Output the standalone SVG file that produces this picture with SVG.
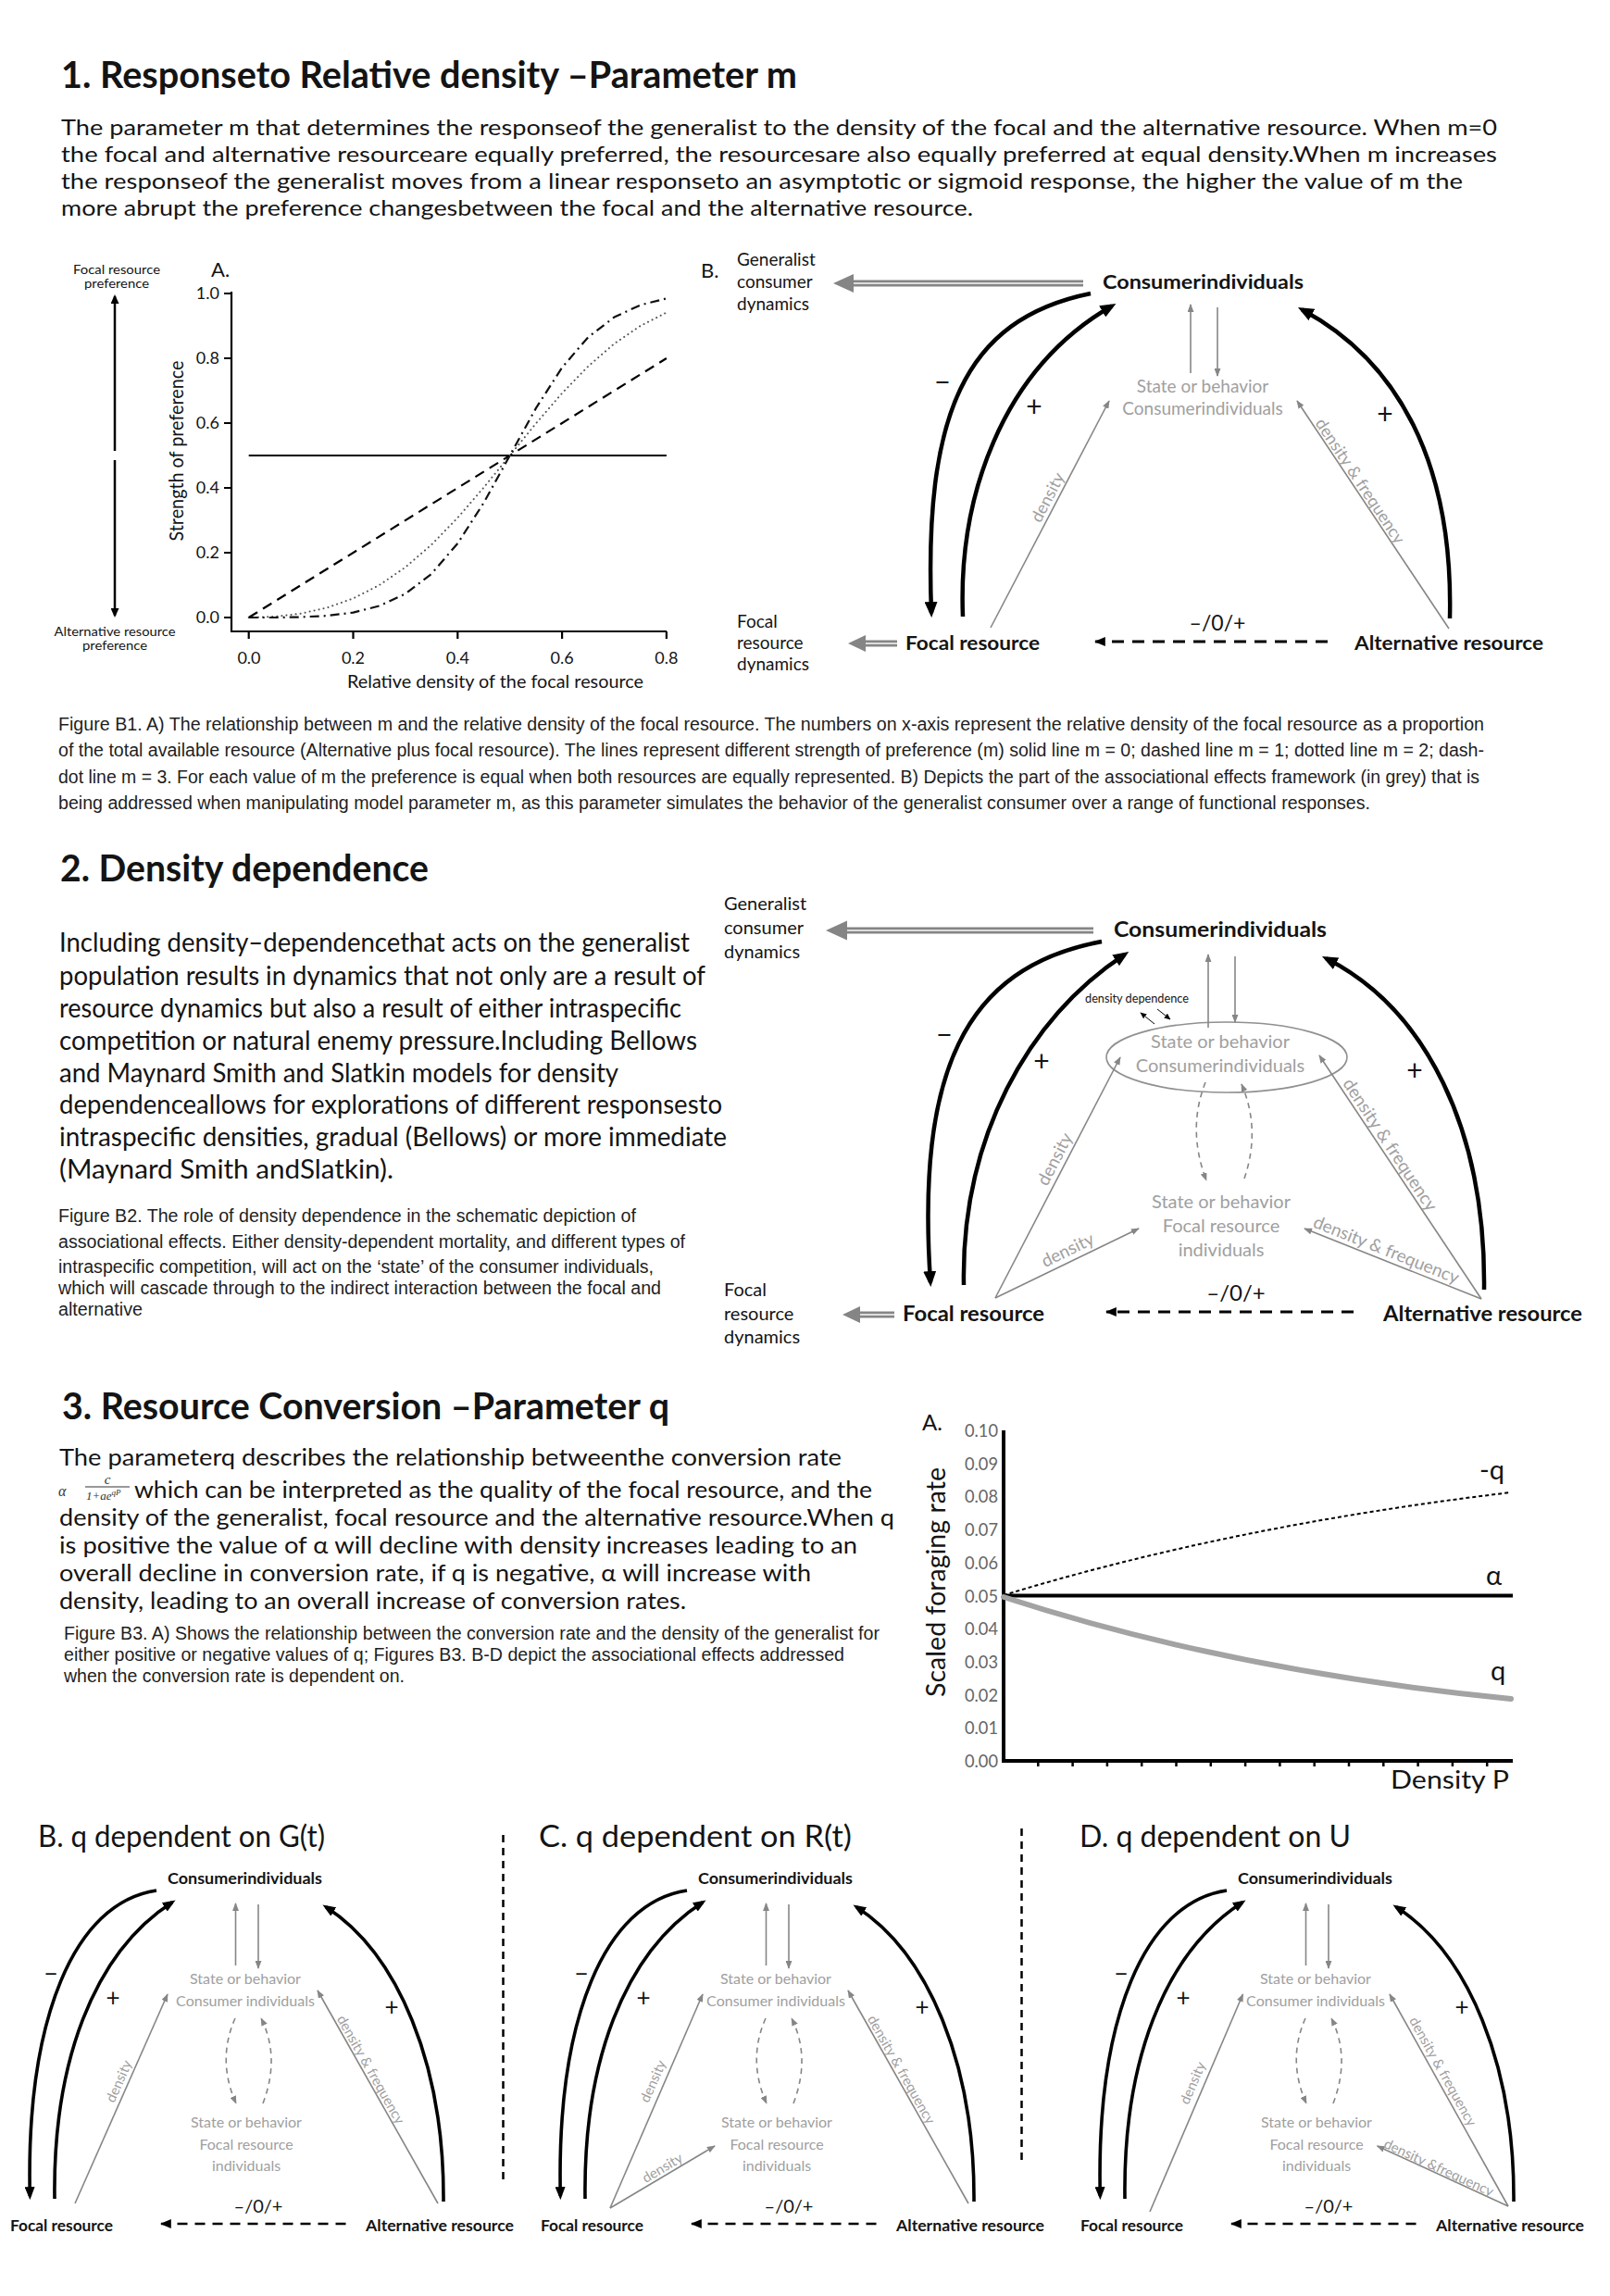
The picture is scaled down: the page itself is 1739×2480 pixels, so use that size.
<svg xmlns="http://www.w3.org/2000/svg" width="1739" height="2480" viewBox="0 0 1739 2480">
<defs>
<style>
.t{font-family:Lato,"Open Sans","Liberation Sans",sans-serif;fill:#141414}
.h{font-size:40px;font-weight:700}
.p{font-size:28px}
.c{font-family:"Liberation Sans Narrow","Liberation Sans",Arial,sans-serif;font-size:20px;fill:#1e1e1e}
.b{font-weight:700}
.g{fill:#a0a0a0}
.m{text-anchor:middle}
.e{text-anchor:end}
.arc{fill:none;stroke:#000;stroke-width:4.5}
.arcs{fill:none;stroke:#000;stroke-width:3.6}
.ga{fill:none;stroke:#868686;stroke-width:1.6}
.gd{fill:none;stroke:#868686;stroke-width:1.6;stroke-dasharray:6 5}
.kd{fill:none;stroke:#000;stroke-width:3;stroke-dasharray:13 9}
.kds{fill:none;stroke:#000;stroke-width:2.6;stroke-dasharray:11 8}
.ax{fill:none;stroke:#000;stroke-width:2.2}
.sep{stroke:#000;stroke-width:2.5;stroke-dasharray:8 6}
</style>
<marker id="ak" viewBox="0 0 10 10" refX="7" refY="5" markerWidth="17" markerHeight="14" markerUnits="userSpaceOnUse" orient="auto" preserveAspectRatio="none"><path d="M0,0 L10,5 L0,10 z" fill="#000"/></marker>
<marker id="aks" viewBox="0 0 10 10" refX="7" refY="5" markerWidth="14" markerHeight="11" markerUnits="userSpaceOnUse" orient="auto" preserveAspectRatio="none"><path d="M0,0 L10,5 L0,10 z" fill="#000"/></marker>
<marker id="akd" viewBox="0 0 10 10" refX="9" refY="5" markerWidth="12" markerHeight="10" markerUnits="userSpaceOnUse" orient="auto" preserveAspectRatio="none"><path d="M0,0 L10,5 L0,10 z" fill="#000"/></marker>
<marker id="ag" viewBox="0 0 10 10" refX="9" refY="5" markerWidth="9" markerHeight="7" markerUnits="userSpaceOnUse" orient="auto" preserveAspectRatio="none"><path d="M0,0 L10,5 L0,10 z" fill="#868686"/></marker>
<marker id="ax" viewBox="0 0 10 10" refX="8" refY="5" markerWidth="10" markerHeight="9" markerUnits="userSpaceOnUse" orient="auto" preserveAspectRatio="none"><path d="M0,0 L10,5 L0,10 z" fill="#000"/></marker>
<marker id="adk" viewBox="0 0 10 10" refX="9" refY="5" markerWidth="7" markerHeight="6" markerUnits="userSpaceOnUse" orient="auto" preserveAspectRatio="none"><path d="M0,0 L10,5 L0,10 z" fill="#000"/></marker>
</defs>
<rect x="0" y="0" width="1739" height="2480" fill="#fff"/>

<!-- ============ SECTION 1 ============ -->
<g id="sec1-text">
<text class="t h" x="66" y="95" textLength="795" lengthAdjust="spacingAndGlyphs">1. Responseto Relative density –Parameter m</text>
<text class="t" font-size="24" x="66" y="146" textLength="1551" lengthAdjust="spacingAndGlyphs">The parameter m that determines the responseof the generalist to the density of the focal and the alternative resource. When m=0</text>
<text class="t" font-size="24" x="66" y="175" textLength="1551" lengthAdjust="spacingAndGlyphs">the focal and alternative resourceare equally preferred, the resourcesare also equally preferred at equal density.When m increases</text>
<text class="t" font-size="24" x="66" y="204" textLength="1514" lengthAdjust="spacingAndGlyphs">the responseof the generalist moves from a linear responseto an asymptotic or sigmoid response, the higher the value of m the</text>
<text class="t" font-size="24" x="66" y="233" textLength="985" lengthAdjust="spacingAndGlyphs">more abrupt the preference changesbetween the focal and the alternative resource.</text>
</g>

<g id="graph-b1a">
<text class="t" x="228" y="299" font-size="22">A.</text>
<text class="t m" font-size="12.5"><tspan x="126" y="296" textLength="94" lengthAdjust="spacingAndGlyphs">Focal resource</tspan><tspan x="126" y="311" textLength="70" lengthAdjust="spacingAndGlyphs">preference</tspan></text>
<text class="t m" font-size="12.5"><tspan x="124" y="687" textLength="131" lengthAdjust="spacingAndGlyphs">Alternative resource</tspan><tspan x="124" y="702" textLength="70" lengthAdjust="spacingAndGlyphs">preference</tspan></text>
<line x1="124" y1="487" x2="124" y2="320" stroke="#000" stroke-width="2.5" marker-end="url(#ax)"/>
<line x1="124" y1="497" x2="124" y2="665" stroke="#000" stroke-width="2.5" marker-end="url(#ax)"/>
<path class="ax" d="M250,315 V682 H720"/>
<path class="ax" d="M242,317 H250 M242,387 H250 M242,457 H250 M242,527 H250 M242,597 H250 M242,667 H250 M268.7,682 V690 M381.5,682 V690 M494.3,682 V690 M607.1,682 V690 M719.9,682 V690"/>
<g class="t e" font-size="18">
<text x="237" y="323">1.0</text><text x="237" y="393">0.8</text><text x="237" y="463">0.6</text><text x="237" y="533">0.4</text><text x="237" y="603">0.2</text><text x="237" y="673">0.0</text>
</g>
<g class="t m" font-size="18">
<text x="269" y="717">0.0</text><text x="381.5" y="717">0.2</text><text x="494.3" y="717">0.4</text><text x="607.1" y="717">0.6</text><text x="719.9" y="717">0.8</text>
</g>
<text class="t m" x="535" y="743" font-size="20" textLength="320" lengthAdjust="spacingAndGlyphs">Relative density of the focal resource</text>
<text class="t m" font-size="21" transform="translate(198,487) rotate(-90)" textLength="195" lengthAdjust="spacingAndGlyphs">Strength of preference</text>
<line x1="268.7" y1="492" x2="719.9" y2="492" stroke="#000" stroke-width="2"/>
<line x1="268.7" y1="667" x2="719.9" y2="387" stroke="#000" stroke-width="2.2" stroke-dasharray="11 7"/>
<polyline fill="none" stroke="#555" stroke-width="2" stroke-linecap="round" stroke-dasharray="0.1 5" points="268.7,667 296.9,666.0 325.1,662.7 353.3,656.4 381.5,646.4 409.7,632 437.9,612.7 466.1,588.3 494.3,559.3 522.5,526.6 550.7,492 578.9,457.4 607.1,424.7 635.3,395.7 663.5,371.2 691.7,352 719.9,337.6"/>
<polyline fill="none" stroke="#111" stroke-width="2.2" stroke-linejoin="round" stroke-dasharray="10 5 2 5" points="268.7,667 296.9,667 325.1,666.5 353.3,665.1 381.5,661.6 409.7,654.5 437.9,641.4 466.1,619.8 494.3,587 522.5,543.1 550.7,492 578.9,440.9 607.1,397 635.3,364.2 663.5,342.6 691.7,329.5 719.9,322.4"/>
</g>

<g id="b1-label"><text class="t" x="757" y="300" font-size="22">B.</text></g>
<g id="b1-generalist-dyn"><text class="t" font-size="19"><tspan x="796" y="287">Generalist</tspan><tspan x="796" y="311">consumer</tspan><tspan x="796" y="335">dynamics</tspan></text></g>
<g id="b1-focal-dyn"><text class="t" font-size="19"><tspan x="796" y="678">Focal</tspan><tspan x="796" y="701">resource</tspan><tspan x="796" y="724">dynamics</tspan></text></g>
<g id="b1-consumer"><text class="t b" x="1191" y="312" font-size="21" textLength="217" lengthAdjust="spacingAndGlyphs">Consumerindividuals</text></g>
<g id="b1-state"><text class="t g m" font-size="19"><tspan x="1299" y="424">State or behavior</tspan><tspan x="1299" y="448">Consumerindividuals</tspan></text></g>
<g id="b1-focal"><text class="t b" x="978" y="702" font-size="21" textLength="145" lengthAdjust="spacingAndGlyphs">Focal resource</text></g>
<g id="b1-alt"><text class="t b" x="1463" y="702" font-size="21" textLength="204" lengthAdjust="spacingAndGlyphs">Alternative resource</text></g>
<g id="b1-connectors">
<line x1="1170" y1="306" x2="919" y2="306" stroke="#858585" stroke-width="7"/>
<line x1="1170" y1="306" x2="919" y2="306" stroke="#dcdcdc" stroke-width="2"/>
<polygon points="900,306 922,296 922,316" fill="#858585"/>
<line x1="969" y1="695" x2="932" y2="695" stroke="#858585" stroke-width="7"/>
<line x1="969" y1="695" x2="932" y2="695" stroke="#dcdcdc" stroke-width="2"/>
<polygon points="916,695 935,686 935,704" fill="#858585"/>
<path class="arc" d="M1178,317 C1040,345 998,450 1006,662" marker-end="url(#ak)"/>
<path class="arc" d="M1040,666 C1035,540 1080,400 1201,330.5" marker-end="url(#ak)"/>
<path class="arc" d="M1566,668 C1570,500 1510,390 1406.4,334.4" marker-end="url(#ak)"/>
<line class="ga" x1="1286" y1="403" x2="1286" y2="329" marker-end="url(#ag)"/>
<line class="ga" x1="1315" y1="332" x2="1315" y2="406" marker-end="url(#ag)"/>
<line class="ga" x1="1070" y1="678" x2="1198" y2="433" marker-end="url(#ag)"/>
<line class="ga" x1="1565" y1="679" x2="1401" y2="433" marker-end="url(#ag)"/>
<line class="kd" x1="1434" y1="693" x2="1183" y2="693" marker-end="url(#akd)"/>
<text class="t m" x="1018" y="423" font-size="30">−</text>
<text class="t m" x="1117" y="450" font-size="30">+</text>
<text class="t m" x="1496" y="458" font-size="30">+</text>
<text class="t m" x="1315" y="681" font-size="23">–/0/+</text>
<text class="t g m" font-size="18" transform="translate(1137,540) rotate(-62.4)">density</text>
<text class="t g m" font-size="18" transform="translate(1464,523) rotate(56.3)">density &amp; frequency</text>
</g>

<g id="caption-b1">
<text class="c" x="63" y="789" textLength="1540" lengthAdjust="spacingAndGlyphs">Figure B1. A) The relationship between m and the relative density of the focal resource. The numbers on x-axis represent the relative density of the focal resource as a proportion</text>
<text class="c" x="63" y="817" textLength="1540" lengthAdjust="spacingAndGlyphs">of the total available resource (Alternative plus focal resource). The lines represent different strength of preference (m) solid line m = 0; dashed line m = 1; dotted line m = 2; dash-</text>
<text class="c" x="63" y="846" textLength="1535" lengthAdjust="spacingAndGlyphs">dot line m = 3. For each value of m the preference is equal when both resources are equally represented. B) Depicts the part of the associational effects framework (in grey) that is</text>
<text class="c" x="63" y="874" textLength="1417" lengthAdjust="spacingAndGlyphs">being addressed when manipulating model parameter m, as this parameter simulates the behavior of the generalist consumer over a range of functional responses.</text>
</g>

<!-- ============ SECTION 2 ============ -->
<g id="sec2-text">
<text class="t h" x="65" y="952" textLength="398" lengthAdjust="spacingAndGlyphs">2. Density dependence</text>
<text class="t p" x="64" y="1028" textLength="681" lengthAdjust="spacingAndGlyphs">Including density–dependencethat acts on the generalist</text>
<text class="t p" x="64" y="1064" textLength="698" lengthAdjust="spacingAndGlyphs">population results in dynamics that not only are a result of</text>
<text class="t p" x="64" y="1099" textLength="672" lengthAdjust="spacingAndGlyphs">resource dynamics but also a result of either intraspecific</text>
<text class="t p" x="64" y="1134" textLength="689" lengthAdjust="spacingAndGlyphs">competition or natural enemy pressure.Including Bellows</text>
<text class="t p" x="64" y="1169" textLength="604" lengthAdjust="spacingAndGlyphs">and Maynard Smith and Slatkin models for density</text>
<text class="t p" x="64" y="1203" textLength="716" lengthAdjust="spacingAndGlyphs">dependenceallows for explorations of different responsesto</text>
<text class="t p" x="64" y="1238" textLength="721" lengthAdjust="spacingAndGlyphs">intraspecific densities, gradual (Bellows) or more immediate</text>
<text class="t p" x="64" y="1273" textLength="361" lengthAdjust="spacingAndGlyphs">(Maynard Smith andSlatkin).</text>
</g>
<g id="caption-b2">
<text class="c" x="63" y="1320" textLength="624" lengthAdjust="spacingAndGlyphs">Figure B2. The role of density dependence in the schematic depiction of</text>
<text class="c" x="63" y="1348" textLength="677" lengthAdjust="spacingAndGlyphs">associational effects. Either density-dependent mortality, and different types of</text>
<text class="c" x="63" y="1375" textLength="643" lengthAdjust="spacingAndGlyphs">intraspecific competition, will act on the ‘state’ of the consumer individuals,</text>
<text class="c" x="63" y="1398" textLength="651" lengthAdjust="spacingAndGlyphs">which will cascade through to the indirect interaction between the focal and</text>
<text class="c" x="63" y="1421" textLength="91" lengthAdjust="spacingAndGlyphs">alternative</text>
</g>

<g id="b2-generalist-dyn"><text class="t" font-size="20"><tspan x="782" y="983">Generalist</tspan><tspan x="782" y="1009">consumer</tspan><tspan x="782" y="1035">dynamics</tspan></text></g>
<g id="b2-focal-dyn"><text class="t" font-size="20"><tspan x="782" y="1400">Focal</tspan><tspan x="782" y="1426">resource</tspan><tspan x="782" y="1451">dynamics</tspan></text></g>
<g id="b2-consumer"><text class="t b" x="1203" y="1012" font-size="22" textLength="230" lengthAdjust="spacingAndGlyphs">Consumerindividuals</text></g>
<g id="b2-state-consumer">
<ellipse cx="1325" cy="1142" rx="130" ry="38" fill="none" stroke="#909090" stroke-width="1.6"/>
<text class="t g m" font-size="20"><tspan x="1318" y="1132">State or behavior</tspan><tspan x="1318" y="1158">Consumerindividuals</tspan></text>
</g>
<g id="b2-state-focal"><text class="t g m" font-size="20"><tspan x="1319" y="1305">State or behavior</tspan><tspan x="1319" y="1331">Focal resource</tspan><tspan x="1319" y="1357">individuals</tspan></text></g>
<g id="b2-dd"><text class="t" x="1172" y="1083" font-size="13" textLength="112" lengthAdjust="spacingAndGlyphs">density dependence</text></g>
<g id="b2-focal"><text class="t b" x="975" y="1427" font-size="22" textLength="153" lengthAdjust="spacingAndGlyphs">Focal resource</text></g>
<g id="b2-alt"><text class="t b" x="1494" y="1427" font-size="22" textLength="215" lengthAdjust="spacingAndGlyphs">Alternative resource</text></g>
<g id="b2-connectors">
<line x1="1181" y1="1005" x2="911" y2="1005" stroke="#858585" stroke-width="7"/>
<line x1="1181" y1="1005" x2="911" y2="1005" stroke="#dcdcdc" stroke-width="2"/>
<polygon points="892,1005 915,994.5 915,1015.5" fill="#858585"/>
<line x1="966" y1="1420" x2="926" y2="1420" stroke="#858585" stroke-width="7"/>
<line x1="966" y1="1420" x2="926" y2="1420" stroke="#dcdcdc" stroke-width="2"/>
<polygon points="910,1420 929,1411 929,1429" fill="#858585"/>
<path class="arc" d="M1190,1017 C1040,1045 990,1160 1005,1385" marker-end="url(#ak)"/>
<path class="arc" d="M1041,1388 C1038,1230 1110,1100 1215,1030.8" marker-end="url(#ak)"/>
<path class="arc" d="M1603,1393 C1605,1220 1540,1090 1432.5,1035.3" marker-end="url(#ak)"/>
<line class="ga" x1="1305" y1="1110" x2="1305" y2="1031" marker-end="url(#ag)"/>
<line class="ga" x1="1334" y1="1033" x2="1334" y2="1104" marker-end="url(#ag)"/>
<path class="gd" d="M1302,1169 Q1282,1220 1303,1275" marker-end="url(#ag)"/>
<path class="gd" d="M1344,1273 Q1362,1220 1341,1171" marker-end="url(#ag)"/>
<line class="ga" x1="1075" y1="1402" x2="1210" y2="1142" marker-end="url(#ag)"/>
<line class="ga" x1="1075" y1="1402" x2="1230" y2="1327" marker-end="url(#ag)"/>
<line class="ga" x1="1600" y1="1403" x2="1425" y2="1140" marker-end="url(#ag)"/>
<line class="ga" x1="1600" y1="1403" x2="1409" y2="1327" marker-end="url(#ag)"/>
<line class="kd" x1="1462" y1="1417" x2="1195" y2="1417" marker-end="url(#akd)"/>
<line x1="1247" y1="1106" x2="1232" y2="1094" stroke="#000" stroke-width="1" marker-end="url(#adk)"/>
<line x1="1250" y1="1090" x2="1264" y2="1101" stroke="#000" stroke-width="1" marker-end="url(#adk)"/>
<text class="t m" x="1020" y="1128" font-size="30">−</text>
<text class="t m" x="1125" y="1157" font-size="30">+</text>
<text class="t m" x="1528" y="1167" font-size="30">+</text>
<text class="t m" x="1335" y="1405" font-size="24">–/0/+</text>
<text class="t g m" font-size="19" transform="translate(1145,1255) rotate(-62.6)">density</text>
<text class="t g m" font-size="19" transform="translate(1156,1356) rotate(-25.8)">density</text>
<text class="t g m" font-size="19" transform="translate(1496,1240) rotate(56.4)">density &amp; frequency</text>
<text class="t g m" font-size="19" transform="translate(1495,1356) rotate(21.7)">density &amp; frequency</text>
</g>

<!-- ============ SECTION 3 ============ -->
<g id="sec3-text">
<text class="t h" x="67" y="1533" textLength="656" lengthAdjust="spacingAndGlyphs">3. Resource Conversion –Parameter q</text>
<text class="t" x="64" y="1583" font-size="24.5" textLength="845" lengthAdjust="spacingAndGlyphs">The parameterq describes the relationship betweenthe conversion rate</text>
<g id="formula" font-family="'Liberation Serif',serif" font-style="italic" fill="#333">
<text x="63" y="1616" font-size="16">α</text>
<text x="116" y="1603" font-size="15" text-anchor="middle">c</text>
<line x1="92" y1="1606" x2="140" y2="1606" stroke="#333" stroke-width="1"/>
<text x="93" y="1620" font-size="13">1+ae<tspan dy="-5" font-size="9">qP</tspan></text>
</g>
<text class="t" x="145" y="1618" font-size="24.5" textLength="797" lengthAdjust="spacingAndGlyphs">which can be interpreted as the quality of the focal resource, and the</text>
<text class="t" x="64" y="1648" font-size="24.5" textLength="902" lengthAdjust="spacingAndGlyphs">density of the generalist, focal resource and the alternative resource.When q</text>
<text class="t" x="64" y="1678" font-size="24.5" textLength="862" lengthAdjust="spacingAndGlyphs">is positive the value of α will decline with density increases leading to an</text>
<text class="t" x="64" y="1708" font-size="24.5" textLength="812" lengthAdjust="spacingAndGlyphs">overall decline in conversion rate, if q is negative, α will increase with</text>
<text class="t" x="64" y="1738" font-size="24.5" textLength="677" lengthAdjust="spacingAndGlyphs">density, leading to an overall increase of conversion rates.</text>
</g>
<g id="caption-b3">
<text class="c" x="69" y="1771" font-size="18" textLength="881" lengthAdjust="spacingAndGlyphs">Figure B3. A) Shows the relationship between the conversion rate and the density of the generalist for</text>
<text class="c" x="69" y="1794" font-size="18" textLength="843" lengthAdjust="spacingAndGlyphs">either positive or negative values of q; Figures B3. B-D depict the associational effects addressed</text>
<text class="c" x="69" y="1817" font-size="18" textLength="368" lengthAdjust="spacingAndGlyphs">when the conversion rate is dependent on.</text>
</g>

<g id="graph-b3a">
<text class="t" x="996" y="1545" font-size="24">A.</text>
<g class="t e" font-size="19">
<text x="1078" y="1552" fill="#666" textLength="36" lengthAdjust="spacingAndGlyphs">0.10</text><text x="1078" y="1588" fill="#666" textLength="36" lengthAdjust="spacingAndGlyphs">0.09</text><text x="1078" y="1623" fill="#666" textLength="36" lengthAdjust="spacingAndGlyphs">0.08</text><text x="1078" y="1659" fill="#666" textLength="36" lengthAdjust="spacingAndGlyphs">0.07</text><text x="1078" y="1695" fill="#666" textLength="36" lengthAdjust="spacingAndGlyphs">0.06</text><text x="1078" y="1731" fill="#666" textLength="36" lengthAdjust="spacingAndGlyphs">0.05</text><text x="1078" y="1766" fill="#666" textLength="36" lengthAdjust="spacingAndGlyphs">0.04</text><text x="1078" y="1802" fill="#666" textLength="36" lengthAdjust="spacingAndGlyphs">0.03</text><text x="1078" y="1838" fill="#666" textLength="36" lengthAdjust="spacingAndGlyphs">0.02</text><text x="1078" y="1873" fill="#666" textLength="36" lengthAdjust="spacingAndGlyphs">0.01</text><text x="1078" y="1909" fill="#666" textLength="36" lengthAdjust="spacingAndGlyphs">0.00</text>
</g>
<path d="M1084,1545 V1902 H1634" fill="none" stroke="#000" stroke-width="4"/>
<path d="M1121.3,1902 v6 M1158.6,1902 v6 M1195.9,1902 v6 M1233.2,1902 v6 M1270.5,1902 v6 M1307.8,1902 v6 M1345.1,1902 v6 M1382.4,1902 v6 M1419.7,1902 v6 M1457,1902 v6 M1494.3,1902 v6 M1531.6,1902 v6 M1568.9,1902 v6 M1606.2,1902 v6" stroke="#000" stroke-width="2.5"/>
<line x1="1084" y1="1723.5" x2="1634" y2="1723.5" stroke="#000" stroke-width="4"/>
<path d="M1084,1723 Q1330,1648 1632,1612" fill="none" stroke="#000" stroke-width="2" stroke-dasharray="4 3"/>
<path d="M1084,1725 Q1330,1805 1632,1835" fill="none" stroke="#a3a3a3" stroke-width="6" stroke-linecap="round"/>
<text class="t" x="1598" y="1598" font-size="29">-q</text>
<text class="t" x="1605" y="1712" font-size="29">α</text>
<text class="t" x="1610" y="1815" font-size="29">q</text>
<text class="t" x="1502" y="1932" font-size="27" textLength="128" lengthAdjust="spacingAndGlyphs">Density P</text>
<text class="t m" font-size="28" transform="translate(1021,1709) rotate(-90)" textLength="248" lengthAdjust="spacingAndGlyphs">Scaled foraging rate</text>
</g>

<!-- ============ BOTTOM PANELS ============ -->
<g id="panel-titles">
<text class="t" x="41" y="1995" font-size="32" textLength="310" lengthAdjust="spacingAndGlyphs">B. q dependent on G(t)</text>
<text class="t" x="582" y="1995" font-size="32" textLength="338" lengthAdjust="spacingAndGlyphs">C. q dependent on R(t)</text>
<text class="t" x="1166" y="1995" font-size="32" textLength="293" lengthAdjust="spacingAndGlyphs">D. q dependent on U</text>
</g>
<g id="separators">
<line class="sep" x1="543.5" y1="1982" x2="543.5" y2="2360"/>
<line class="sep" x1="1103.5" y1="1975" x2="1103.5" y2="2335"/>
</g>

<g id="panel-b">
<g id="pb-consumer"><text class="t b" x="181" y="2035" font-size="17" textLength="167" lengthAdjust="spacingAndGlyphs">Consumerindividuals</text></g>
<g id="pb-state-consumer"><text class="t g m" font-size="16"><tspan x="265" y="2143">State or behavior</tspan><tspan x="265" y="2167">Consumer individuals</tspan></text></g>
<g id="pb-state-focal"><text class="t g m" font-size="16"><tspan x="266" y="2298">State or behavior</tspan><tspan x="266" y="2322">Focal resource</tspan><tspan x="266" y="2345">individuals</tspan></text></g>
<g id="pb-focal"><text class="t b" x="11" y="2410" font-size="17" textLength="111" lengthAdjust="spacingAndGlyphs">Focal resource</text></g>
<g id="pb-alt"><text class="t b" x="395" y="2410" font-size="17" textLength="160" lengthAdjust="spacingAndGlyphs">Alternative resource</text></g>
<g id="pb-connectors">
<path class="arcs" d="M169,2042 C80,2055 28,2180 32.3,2372" marker-end="url(#aks)"/>
<path class="arcs" d="M59,2375 C57,2230 100,2110 186,2054.7" marker-end="url(#aks)"/>
<path class="arcs" d="M479,2378 C480,2230 430,2110 352,2059.7" marker-end="url(#aks)"/>
<line class="ga" x1="254.5" y1="2123" x2="254.5" y2="2056" marker-end="url(#ag)"/>
<line class="ga" x1="279" y1="2057" x2="279" y2="2126" marker-end="url(#ag)"/>
<line class="ga" x1="81" y1="2380" x2="181" y2="2154" marker-end="url(#ag)"/>
<line class="ga" x1="473" y1="2380" x2="343" y2="2150" marker-end="url(#ag)"/>
<path class="gd" d="M254,2180 Q234,2225 255,2272" marker-end="url(#ag)"/>
<path class="gd" d="M284,2272 Q303,2222 282,2180" marker-end="url(#ag)"/>
<line class="kds" x1="373.5" y1="2402" x2="174" y2="2402" marker-end="url(#akd)"/>
<text class="t m" x="55" y="2141" font-size="26">−</text>
<text class="t m" x="122" y="2167" font-size="26">+</text>
<text class="t m" x="423" y="2177" font-size="26">+</text>
<text class="t m" x="279" y="2390" font-size="20">–/0/+</text>
<text class="t g m" font-size="15" transform="translate(133,2250) rotate(-66)">density</text>
<text class="t g m" font-size="15" transform="translate(396,2238) rotate(60.5)">density &amp; frequency</text>
</g>
</g>

<g id="panel-c" transform="translate(573,0)">
<g id="pc-consumer"><text class="t b" x="181" y="2035" font-size="17" textLength="167" lengthAdjust="spacingAndGlyphs">Consumerindividuals</text></g>
<g id="pc-state-consumer"><text class="t g m" font-size="16"><tspan x="265" y="2143">State or behavior</tspan><tspan x="265" y="2167">Consumer individuals</tspan></text></g>
<g id="pc-state-focal"><text class="t g m" font-size="16"><tspan x="266" y="2298">State or behavior</tspan><tspan x="266" y="2322">Focal resource</tspan><tspan x="266" y="2345">individuals</tspan></text></g>
<g id="pc-focal"><text class="t b" x="11" y="2410" font-size="17" textLength="111" lengthAdjust="spacingAndGlyphs">Focal resource</text></g>
<g id="pc-alt"><text class="t b" x="395" y="2410" font-size="17" textLength="160" lengthAdjust="spacingAndGlyphs">Alternative resource</text></g>
<g id="pc-connectors">
<path class="arcs" d="M169,2042 C80,2055 28,2180 32.3,2372" marker-end="url(#aks)"/>
<path class="arcs" d="M59,2375 C57,2230 100,2110 186,2054.7" marker-end="url(#aks)"/>
<path class="arcs" d="M479,2378 C480,2230 430,2110 352,2059.7" marker-end="url(#aks)"/>
<line class="ga" x1="254.5" y1="2123" x2="254.5" y2="2056" marker-end="url(#ag)"/>
<line class="ga" x1="279" y1="2057" x2="279" y2="2126" marker-end="url(#ag)"/>
<line class="ga" x1="86" y1="2385" x2="186" y2="2154" marker-end="url(#ag)"/>
<line class="ga" x1="86" y1="2385" x2="199" y2="2318" marker-end="url(#ag)"/>
<line class="ga" x1="473" y1="2380" x2="343" y2="2150" marker-end="url(#ag)"/>
<path class="gd" d="M254,2180 Q234,2225 255,2272" marker-end="url(#ag)"/>
<path class="gd" d="M284,2272 Q303,2222 282,2180" marker-end="url(#ag)"/>
<line class="kds" x1="373.5" y1="2402" x2="174" y2="2402" marker-end="url(#akd)"/>
<text class="t m" x="55" y="2141" font-size="26">−</text>
<text class="t m" x="122" y="2167" font-size="26">+</text>
<text class="t m" x="423" y="2177" font-size="26">+</text>
<text class="t m" x="279" y="2390" font-size="20">–/0/+</text>
<text class="t g m" font-size="15" transform="translate(137,2250) rotate(-66)">density</text>
<text class="t g m" font-size="15" transform="translate(145,2346) rotate(-30.7)">density</text>
<text class="t g m" font-size="15" transform="translate(396,2238) rotate(60.5)">density &amp; frequency</text>
</g>
</g>

<g id="panel-d" transform="translate(1156,0)">
<g id="pd-consumer"><text class="t b" x="181" y="2035" font-size="17" textLength="167" lengthAdjust="spacingAndGlyphs">Consumerindividuals</text></g>
<g id="pd-state-consumer"><text class="t g m" font-size="16"><tspan x="265" y="2143">State or behavior</tspan><tspan x="265" y="2167">Consumer individuals</tspan></text></g>
<g id="pd-state-focal"><text class="t g m" font-size="16"><tspan x="266" y="2298">State or behavior</tspan><tspan x="266" y="2322">Focal resource</tspan><tspan x="266" y="2345">individuals</tspan></text></g>
<g id="pd-focal"><text class="t b" x="11" y="2410" font-size="17" textLength="111" lengthAdjust="spacingAndGlyphs">Focal resource</text></g>
<g id="pd-alt"><text class="t b" x="395" y="2410" font-size="17" textLength="160" lengthAdjust="spacingAndGlyphs">Alternative resource</text></g>
<g id="pd-connectors">
<path class="arcs" d="M169,2042 C80,2055 28,2180 32.3,2372" marker-end="url(#aks)"/>
<path class="arcs" d="M59,2375 C57,2230 100,2110 186,2054.7" marker-end="url(#aks)"/>
<path class="arcs" d="M479,2378 C480,2230 430,2110 352,2059.7" marker-end="url(#aks)"/>
<line class="ga" x1="254.5" y1="2123" x2="254.5" y2="2056" marker-end="url(#ag)"/>
<line class="ga" x1="279" y1="2057" x2="279" y2="2126" marker-end="url(#ag)"/>
<line class="ga" x1="86" y1="2389" x2="186.5" y2="2154" marker-end="url(#ag)"/>
<line class="ga" x1="473" y1="2383" x2="345" y2="2154" marker-end="url(#ag)"/>
<line class="ga" x1="473" y1="2383" x2="331.6" y2="2318" marker-end="url(#ag)"/>
<path class="gd" d="M254,2180 Q234,2225 255,2272" marker-end="url(#ag)"/>
<path class="gd" d="M284,2272 Q303,2222 282,2180" marker-end="url(#ag)"/>
<line class="kds" x1="373.5" y1="2402" x2="174" y2="2402" marker-end="url(#akd)"/>
<text class="t m" x="55" y="2141" font-size="26">−</text>
<text class="t m" x="122" y="2167" font-size="26">+</text>
<text class="t m" x="423" y="2177" font-size="26">+</text>
<text class="t m" x="279" y="2390" font-size="20">–/0/+</text>
<text class="t g m" font-size="15" transform="translate(137,2252) rotate(-66.8)">density</text>
<text class="t g m" font-size="15" transform="translate(398,2240) rotate(60.8)">density &amp; frequency</text>
<text class="t g m" font-size="15" transform="translate(396,2346) rotate(24.7)">density &amp;frequency</text>
</g>
</g>
</svg>
